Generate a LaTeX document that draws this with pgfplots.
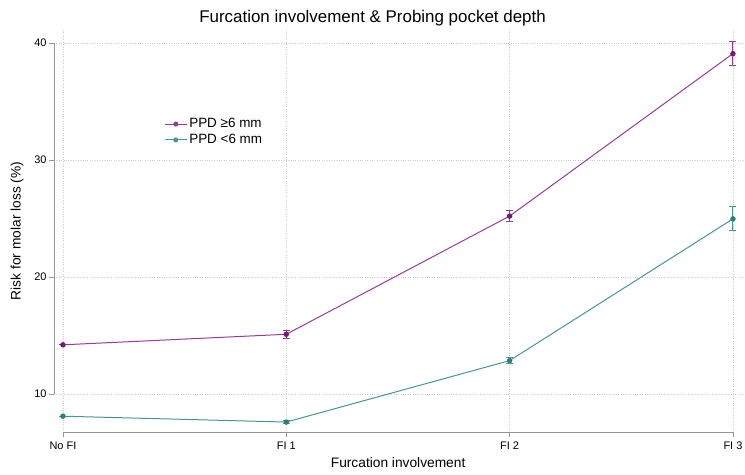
\documentclass[border=0pt]{standalone}
\usepackage{pgfplots}
\pgfplotsset{compat=1.18}
\usepackage{fontspec}
\setmainfont{Liberation Sans}
\definecolor{pline}{RGB}{150,60,150}
\definecolor{pmark}{RGB}{115,25,115}
\definecolor{tline}{RGB}{70,150,148}
\definecolor{tmark}{RGB}{45,125,122}
\definecolor{axgray}{RGB}{150,150,150}
\begin{document}
\begin{tikzpicture}
\useasboundingbox (0,0) rectangle (745bp,475bp);
\begin{axis}[
  at={(54bp,43bp)}, anchor=south west,
  scale only axis, width=691bp, height=402bp,
  xmin=-0.04, xmax=3.054, ymin=6.75, ymax=41.1,
  clip=false,
  axis line style={draw=none},
  xtick={0,1,2,3}, xticklabels={No FI,FI 1,FI 2,FI 3},
  ytick={10,20,30,40},
  xtick pos=bottom, ytick pos=left, tick align=outside,
  major tick length=5bp,
  tick style={axgray, line width=0.6pt},
  grid=major,
  major grid style={dotted, gray!40, line width=0.6pt},
  /pgf/number format/assume math mode=true,
  ticklabel style={font=\fontsize{11}{13}\selectfont},
  yticklabel style={xshift=1bp},
  xticklabel style={yshift=-1bp},
  xlabel={Furcation involvement},
  ylabel={Risk for molar loss (\%)},
  xlabel style={font=\fontsize{13.8}{16}\selectfont, at={(axis description cs:0.498,0)}, anchor=north, yshift=-22bp},
  ylabel style={font=\fontsize{13.8}{16}\selectfont, yshift=4bp},
  title={Furcation involvement \& Probing pocket depth},
  title style={font=\fontsize{17}{20}\selectfont, at={(axis description cs:0.461,1)}, yshift=-6bp},
  legend style={at={(axis description cs:0.155,0.79)}, anchor=north west, draw=none, fill=none,
    font=\fontsize{13.5}{16}\selectfont, row sep=1bp},
  legend cell align=left,
  legend image code/.code={\draw[#1] (0bp,0bp) -- (22bp,0bp); \fill[#1] (11bp,0bp) circle (2bp);},
]
\draw[axgray, line width=0.7pt] (axis cs:-0.04,10) -- (axis cs:-0.04,40);
\draw[axgray, line width=0.7pt] (axis cs:0,6.75) -- (axis cs:3,6.75);
\addplot[color=pline, line width=1pt, mark=*, mark size=2.2bp, mark options={color=pmark, fill=pmark},
  error bars/.cd, y dir=both, y explicit, error bar style={color=pline, line width=1pt},
  error mark options={rotate=90, mark size=3.5bp, color=pline, line width=1pt}]
  coordinates {(0,14.2) +- (0,0) (1,15.1) +- (0,0.35) (2,25.2) +- (0,0.5) (3,39.08) +- (0,1.05)};
\addlegendentry{PPD ≥6 mm}
\addplot[color=tline, line width=1pt, mark=*, mark size=2.2bp, mark options={color=tmark, fill=tmark},
  error bars/.cd, y dir=both, y explicit, error bar style={color=tline, line width=1pt},
  error mark options={rotate=90, mark size=3.5bp, color=tline, line width=1pt}]
  coordinates {(0,8.1) +- (0,0) (1,7.6) +- (0,0.12) (2,12.85) +- (0,0.25) (3,24.96) +- (0,1.03)};
\addlegendentry{PPD <6 mm}
\end{axis}
\end{tikzpicture}
\end{document}
